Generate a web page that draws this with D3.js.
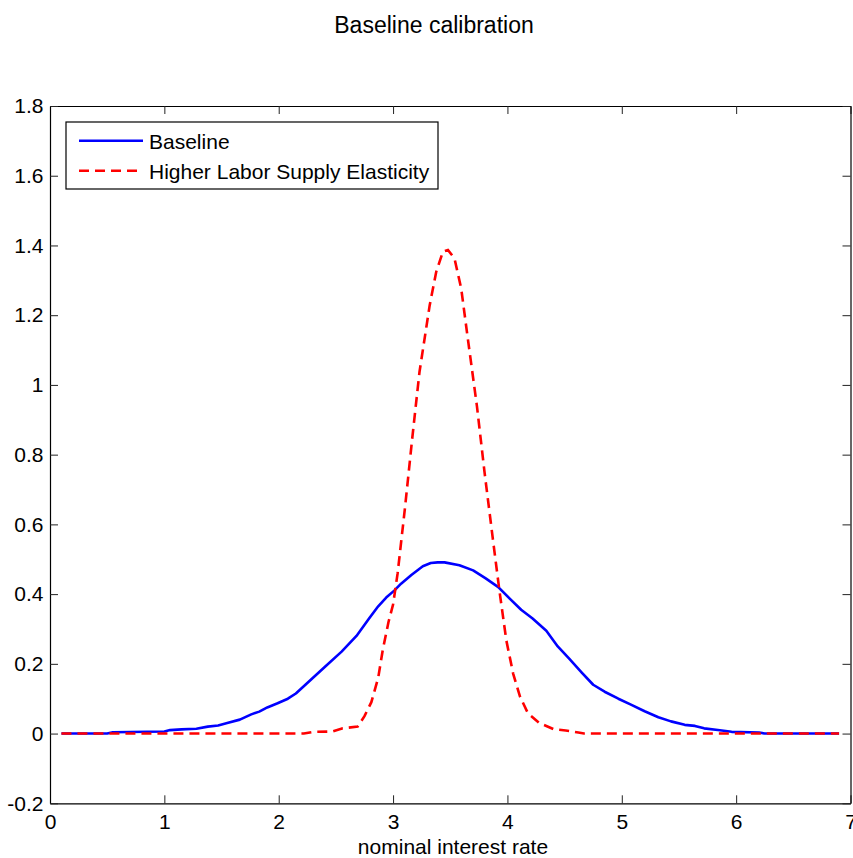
<!DOCTYPE html>
<html>
<head>
<meta charset="utf-8">
<script src="https://cdn.jsdelivr.net/npm/d3@7"></script>
<style>
  body { margin: 0; background: #fff; }
  svg text { font-family: "Liberation Sans", Arial, sans-serif; font-size: 21px; fill: #000; }
</style>
</head>
<body>
<svg id="chart" width="853" height="858"></svg>
<script>
// values
const baseX = [0.1, 0.5, 0.55, 1.0, 1.05, 1.15, 1.28, 1.38, 1.47, 1.55, 1.66, 1.76, 1.83, 1.9, 1.99,
  2.08, 2.15, 2.25, 2.4, 2.55, 2.68, 2.79, 2.87, 2.94, 3.01, 3.07, 3.16, 3.26, 3.33, 3.39, 3.45,
  3.58, 3.7, 3.81, 3.92, 4.02, 4.12, 4.22, 4.34, 4.44, 4.54, 4.65, 4.75, 4.85, 4.97, 5.08, 5.2,
  5.32, 5.43, 5.55, 5.64, 5.72, 5.84, 5.96, 6.2, 6.25, 6.9];
const baseY = [0, 0, 0.004, 0.006, 0.01, 0.012, 0.014, 0.02, 0.023, 0.03, 0.04, 0.055, 0.063, 0.075, 0.087,
  0.1, 0.115, 0.145, 0.19, 0.235, 0.28, 0.33, 0.365, 0.39, 0.41, 0.43, 0.455, 0.48, 0.489, 0.491, 0.491,
  0.483, 0.468, 0.445, 0.42, 0.387, 0.355, 0.33, 0.295, 0.25, 0.215, 0.175, 0.14, 0.12, 0.1, 0.083, 0.064,
  0.047, 0.035, 0.025, 0.022, 0.015, 0.01, 0.005, 0.003, 0, 0];

const highX = [0.1, 2.22, 2.31, 2.47, 2.56, 2.69, 2.75, 2.81, 2.87, 2.91, 2.96, 3.0, 3.04, 3.106, 3.167,
  3.231, 3.32, 3.377, 3.436, 3.48, 3.537, 3.596, 3.654, 3.733, 3.8, 3.873, 3.93, 3.99, 4.05, 4.11,
  4.18, 4.28, 4.41, 4.51, 4.62, 4.67, 6.9];
const highY = [0, 0, 0.005, 0.006, 0.015, 0.02, 0.05, 0.09, 0.16, 0.24, 0.32, 0.37, 0.46, 0.653, 0.845,
  1.037, 1.228, 1.324, 1.382, 1.387, 1.363, 1.276, 1.132, 0.94, 0.749, 0.557, 0.41, 0.268, 0.172, 0.106,
  0.058, 0.03, 0.012, 0.009, 0.003, 0, 0];

const xTicks = [0, 1, 2, 3, 4, 5, 6, 7];
const yTicks = [-0.2, 0, 0.2, 0.4, 0.6, 0.8, 1, 1.2, 1.4, 1.6, 1.8];
const seriesNames = ["Baseline", "Higher Labor Supply Elasticity"];

const svg = d3.select('#chart');
const plotLeft = 50, plotRight = 850.5, plotTop = 106, plotBottom = 803.3;

const x = d3.scaleLinear().domain([0, 7]).range([plotLeft, plotRight]);
const y = d3.scaleLinear().domain([-0.2, 1.8]).range([plotBottom, plotTop]);

// title and axis label
svg.append("text")
    .attr("x", 434).attr("y", 33)
    .attr("text-anchor", "middle")
    .style("font-size", "23px")
    .text("Baseline calibration");

svg.append("text")
    .attr("x", 453).attr("y", 854)
    .attr("text-anchor", "middle")
    .text("nominal interest rate");

// axes with inward ticks, matlab style box
const fmt = d => String(d);
svg.append("g")
    .attr("transform", `translate(0,${plotBottom})`)
    .call(d3.axisBottom(x).tickValues(xTicks).tickSizeInner(-8).tickSizeOuter(0).tickPadding(11).tickFormat(fmt));
svg.append("g")
    .attr("transform", `translate(0,${plotTop})`)
    .call(d3.axisTop(x).tickValues(xTicks).tickSizeInner(-8).tickSizeOuter(0).tickFormat(""));
svg.append("g")
    .attr("transform", `translate(${plotLeft},0)`)
    .call(d3.axisLeft(y).tickValues(yTicks).tickSizeInner(-8).tickSizeOuter(0).tickPadding(6.5).tickFormat(fmt));
svg.append("g")
    .attr("transform", `translate(${plotRight},0)`)
    .call(d3.axisRight(y).tickValues(yTicks).tickSizeInner(-8).tickSizeOuter(0).tickFormat(""));

svg.selectAll(".domain").attr("stroke", "#000").attr("stroke-width", 1.2);
svg.selectAll(".tick line").attr("stroke", "#222");
svg.selectAll(".tick text")
    .style("font-family", '"Liberation Sans", Arial, sans-serif')
    .style("font-size", "21px")
    .attr("fill", "#000");

// curves
const line = d3.line().x(d => x(d[0])).y(d => y(d[1]));
const basePts = baseX.map((v, i) => [v, baseY[i]]);
const highPts = highX.map((v, i) => [v, highY[i]]);

svg.append("path")
    .datum(basePts)
    .attr("d", line)
    .attr("fill", "none")
    .attr("stroke", "#0000ff")
    .attr("stroke-width", 2.6)
    .attr("stroke-linejoin", "round");

svg.append("path")
    .datum(highPts)
    .attr("d", line)
    .attr("fill", "none")
    .attr("stroke", "#ff0000")
    .attr("stroke-width", 2.6)
    .attr("stroke-dasharray", "10,6");

// legend
const legend = svg.append("g");
legend.append("rect")
    .attr("x", 66).attr("y", 122)
    .attr("width", 372).attr("height", 67)
    .attr("fill", "#fff")
    .attr("stroke", "#000")
    .attr("stroke-width", 1.2);

const legendStyles = [
    { color: "#0000ff", dash: null },
    { color: "#ff0000", dash: "10,6" }
];
seriesNames.forEach((name, i) => {
    const ly = 140.7 + i * 30;
    legend.append("line")
        .attr("x1", 79).attr("x2", 143)
        .attr("y1", ly).attr("y2", ly)
        .attr("stroke", legendStyles[i].color)
        .attr("stroke-width", 2.6)
        .attr("stroke-dasharray", legendStyles[i].dash);
    legend.append("text")
        .attr("x", 149).attr("y", ly + 8)
        .text(name);
});
</script>
</body>
</html>
